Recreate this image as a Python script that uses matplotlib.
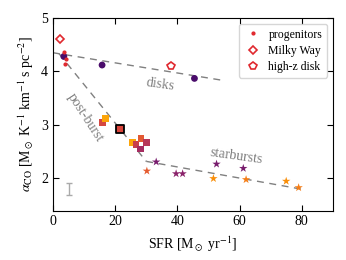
import numpy as np
import matplotlib
matplotlib.use('Agg')
import matplotlib.pyplot as plt

plt.rcParams['font.family'] = ['Liberation Serif', 'DejaVu Serif']
plt.rcParams['mathtext.fontset'] = 'stix'
plt.rcParams['font.size'] = 9

# progenitors / reference points
prog_sfr = [3.6, 4.3, 3.8]
prog_aco = [4.37, 4.24, 4.14]
mw_sfr, mw_aco = [2.3], [4.6]
hz_sfr, hz_aco = [38.0], [4.11]

# disks (circles)
disk_sfr = [3.5, 15.8, 45.5]
disk_aco = [4.28, 4.12, 3.87]
disk_col = ['#4a0c6b', '#4a0c6b', '#4a0c6b']

# post-burst (squares)
pb_sfr = [15.9, 17.0, 25.7, 26.7, 28.1, 28.3, 30.2]
pb_aco = [3.05, 3.12, 2.68, 2.63, 2.55, 2.74, 2.68]
pb_col = ['#d44842', '#fca50a', '#fca50a', '#c73e4c', '#a52c60', '#e35933', '#b73759']
pb_hi_sfr, pb_hi_aco = [21.6], [2.93]

# starbursts (stars)
sb_sfr = [33.2, 30.2, 39.6, 41.7, 52.6, 51.6, 61.2, 62.1, 75.0, 79.0]
sb_aco = [2.31, 2.14, 2.09, 2.09, 2.27, 2.00, 2.19, 1.98, 1.95, 1.83]
sb_col = ['#781c6d', '#e55c30', '#8a226a', '#8a226a', '#781c6d', '#f98e09',
          '#781c6d', '#f57d15', '#f98e09', '#f57d15']

# trend lines
disk_line_x, disk_line_y = [0, 55], [4.35, 3.83]
pb_line_x, pb_line_y = [2, 30], [4.33, 2.32]
sb_line_x, sb_line_y = [30, 80], [2.32, 1.80]

# typical error
err_x, err_y, err_dy = [5.1], [1.81], [0.11]

fig = plt.figure(figsize=(3.46, 2.6), dpi=100)
ax = fig.add_axes([0.153, 0.19, 0.809, 0.741])

ls = dict(color='gray', lw=1.0, dashes=(5, 4), zorder=1)
ax.plot(disk_line_x, disk_line_y, **ls)
ax.plot(pb_line_x, pb_line_y, **ls)
ax.plot(sb_line_x, sb_line_y, **ls)

ax.scatter(disk_sfr, disk_aco, c=disk_col, marker='o', s=24, zorder=3, lw=0)
ax.scatter(pb_sfr, pb_aco, c=pb_col, marker='s', s=24, zorder=3, lw=0)
ax.scatter(pb_hi_sfr, pb_hi_aco, c='#d9453b', marker='s', s=30, zorder=4,
           edgecolors='black', linewidths=1.3)
ax.scatter(sb_sfr, sb_aco, c=sb_col, marker='*', s=40, zorder=3, lw=0)

ax.plot(prog_sfr, prog_aco, '.', color='#e0282e', ms=4, zorder=4, label='progenitors')
ax.plot(mw_sfr, mw_aco, 'D', mfc='none', mec='#e0282e', mew=1.2, ms=4.5,
        ls='none', label='Milky Way')
ax.plot(hz_sfr, hz_aco, 'p', mfc='none', mec='#e0282e', mew=1.2, ms=5.5,
        ls='none', label='high-z disk')

ax.errorbar(err_x, err_y, yerr=err_dy, color='#aaaaaa', capsize=2.5, lw=1, fmt='none')

ax.text(34.5, 3.76, 'disks', color='gray', rotation=-8, ha='center', va='center', fontsize=10)
ax.text(10.3, 3.14, 'post-burst', color='gray', rotation=-57, ha='center', va='center', fontsize=10)
ax.text(59, 2.41, 'starbursts', color='gray', rotation=-8, ha='center', va='center', fontsize=10)

ax.set_xlim(0, 90)
ax.set_ylim(1.4, 5)
ax.set_xticks([0, 20, 40, 60, 80])
ax.set_yticks([2, 3, 4, 5])
ax.tick_params(direction='in', top=True, right=True, length=4, labelsize=10)
ax.set_xlabel(r'SFR [M$_\odot$ yr$^{-1}$]', fontsize=10)
ax.set_ylabel(r'$\alpha_{\rm CO}$ [M$_\odot$ K$^{-1}$ km$^{-1}$ s pc$^{-2}$]', fontsize=10)

ax.legend(loc='upper right', fontsize=8.5, handletextpad=0.6, borderpad=0.4,
          labelspacing=0.35, handlelength=1.5)

fig.savefig('out.png', dpi=100)
